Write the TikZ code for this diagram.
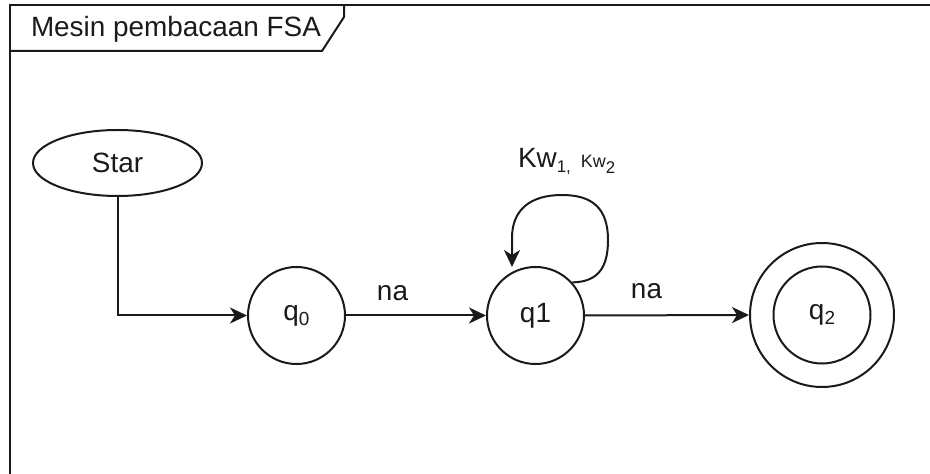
\documentclass[tikz,border=0pt]{standalone}
\usepackage{fontspec}
\setmainfont{Liberation Sans}
\usetikzlibrary{arrows.meta,shapes.geometric}
\definecolor{ink}{HTML}{1A1A1A}
\newcommand\fsz[1]{\fontsize{#1}{#1}\selectfont}
\newcommand\lowsub[3]{\raisebox{-#1}{\fsz{#2}#3}}
\begin{document}
\begin{tikzpicture}[x=1bp,y=-1bp, line width=2bp, draw=ink, text=ink,
  lbl/.style={font=\fsz{28}, inner sep=0pt},
  state/.style={circle, draw, minimum size=97bp, inner sep=0pt, font=\fsz{28}},
  arr/.style={-{Stealth[length=17bp,width=16bp,inset=5bp]}}]
\useasboundingbox (0,0) rectangle (930,474);
% frame
\draw (10,480) -- (10,5) -- (935,5);
\draw (10,51) -- (322,51) -- (344,17) -- (344,5);
\node[lbl, anchor=base west] (title) at (30,36.5) {Mesin pembacaan FSA};
% nodes
\node[ellipse, draw, minimum width=169bp, minimum height=66bp, lbl] (star) at (117.5,163) {Star};
\node[state] (q0) at (296.5,315.5) {q\lowsub{5bp}{19}{0}};
\node[state] (q1) at (535.5,315.5) {q1};
\node[circle, draw, minimum size=144bp, inner sep=0pt] (q2) at (822,315) {};
\node[state] (q2in) at (822,315) {q\lowsub{5bp}{19}{2}};
% edges
\draw[arr] (star.south) |- (q0.west);
\draw[arr] (q0.east) -- (q1.west);
\draw[arr] (q1.east) -- (q2.west);
\coordinate (lend) at (512,267);
\draw[arr] (q1.42) .. controls (600,282) and (608,265) .. (608,240)
  .. controls (608,208) and (592,195) .. (562,195)
  .. controls (530,195) and (512,210) .. (512,238) -- (lend);
% labels
\node[lbl] (na1) at (392.5,293.5) {na};
\node[lbl] (na2) at (646.5,291.5) {na};
\node[lbl, anchor=base west] (kw) at (517,168) {Kw\lowsub{5bp}{17}{1,}\hspace{10bp}{\fsz{18}Kw}\lowsub{6bp}{17}{2}};
\end{tikzpicture}
\end{document}
